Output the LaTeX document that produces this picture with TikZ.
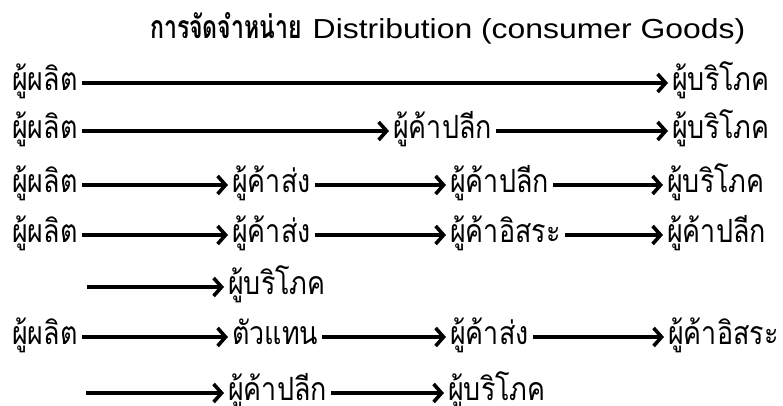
\documentclass[tikz,border=0pt]{standalone}
\usepackage{fontspec}
\usetikzlibrary{arrows.meta}
\newfontfamily\thaifont[Script=Thai,FakeStretch=0.84]{Loma}
\newfontfamily\thaititle[Script=Thai,FakeStretch=0.72]{Loma}
\newfontfamily\latinfont[FakeStretch=1.16]{Liberation Sans}
\begin{document}
\begin{tikzpicture}[x=1pt,y=-1pt,
  lbl/.style={font=\thaifont\fontsize{32}{36}\selectfont, inner xsep=4pt, inner ysep=0pt,
    text height=15pt, text depth=0pt, anchor=west},
  arr/.style={line width=3.6pt, -{Straight Barb[length=8pt,width=18pt,line width=3.6pt]}}]
\useasboundingbox (0,0) rectangle (783,405);
\node[anchor=base west, inner sep=0pt] (title) at (150,38)
  {{\thaititle\bfseries\fontsize{32}{36}\selectfont การจัดจำหน่าย}\hspace{11pt}{\latinfont\fontsize{27.5}{30}\selectfont Distribution (consumer Goods)}};
% row 1
\node[lbl] (p1) at (8,83) {ผู้ผลิต};
\node[lbl] (c1) at (668,83) {ผู้บริโภค};
\draw[arr] (p1) -- (c1);
% row 2
\node[lbl] (p2) at (8,131) {ผู้ผลิต};
\node[lbl] (r2) at (389,131) {ผู้ค้าปลีก};
\node[lbl] (c2) at (668,131) {ผู้บริโภค};
\draw[arr] (p2) -- (r2);
\draw[arr] (r2) -- (c2);
% row 3
\node[lbl] (p3) at (8,185) {ผู้ผลิต};
\node[lbl] (w3) at (228,185) {ผู้ค้าส่ง};
\node[lbl] (r3) at (446,185) {ผู้ค้าปลีก};
\node[lbl] (c3) at (663,185) {ผู้บริโภค};
\draw[arr] (p3) -- (w3);
\draw[arr] (w3) -- (r3);
\draw[arr] (r3) -- (c3);
% row 4
\node[lbl] (p4) at (8,235) {ผู้ผลิต};
\node[lbl] (w4) at (228,235) {ผู้ค้าส่ง};
\node[lbl] (i4) at (446,235) {ผู้ค้าอิสระ};
\node[lbl] (r4) at (663,235) {ผู้ค้าปลีก};
\draw[arr] (p4) -- (w4);
\draw[arr] (w4) -- (i4);
\draw[arr] (i4) -- (r4);
% row 5
\coordinate (s5) at (87,287);
\node[lbl] (c5) at (224,287) {ผู้บริโภค};
\draw[arr] (s5) -- (c5);
% row 6
\node[lbl] (p6) at (8,337) {ผู้ผลิต};
\node[lbl] (a6) at (228,337) {ตัวแทน};
\node[lbl] (w6) at (446,337) {ผู้ค้าส่ง};
\node[lbl] (i6) at (664,337) {ผู้ค้าอิสระ};
\draw[arr] (p6) -- (a6);
\draw[arr] (a6) -- (w6);
\draw[arr] (w6) -- (i6);
% row 7
\coordinate (s7) at (86,393);
\node[lbl] (r7) at (224,393) {ผู้ค้าปลีก};
\node[lbl] (c7) at (444,393) {ผู้บริโภค};
\draw[arr] (s7) -- (r7);
\draw[arr] (r7) -- (c7);
\end{tikzpicture}
\end{document}
